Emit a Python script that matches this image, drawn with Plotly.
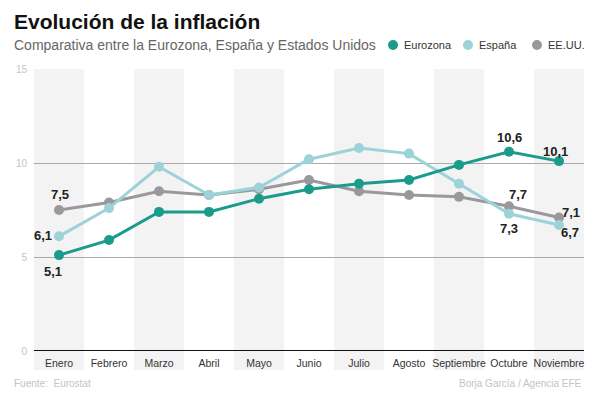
import plotly.graph_objects as go

months = ["Enero", "Febrero", "Marzo", "Abril", "Mayo", "Junio", "Julio",
          "Agosto", "Septiembre", "Octubre", "Noviembre"]
eurozona = [5.1, 5.9, 7.4, 7.4, 8.1, 8.6, 8.9, 9.1, 9.9, 10.6, 10.1]
espana = [6.1, 7.6, 9.8, 8.3, 8.7, 10.2, 10.8, 10.5, 8.9, 7.3, 6.7]
eeuu = [7.5, 7.9, 8.5, 8.3, 8.6, 9.1, 8.5, 8.3, 8.2, 7.7, 7.1]
y_ticks = [0, 5, 10, 15]

C_EZ = "#1b9b8b"
C_ES = "#9dd2d8"
C_US = "#9b989c"
FONT = "Liberation Sans, Arial, sans-serif"

series = [("Eurozona", eurozona, C_EZ), ("España", espana, C_ES), ("EE.UU.", eeuu, C_US)]

# page body has an 8px margin: figure is offset by 8px
W, H = 592, 389
ML, MR, MT, MB = 26, 16, 61, 46
PW = W - ML - MR   # 550
PH = H - MT - MB   # 282

def px_x(x):  # window x -> paper x
    return (x - 8 - ML) / PW

def px_y(y):  # window y -> paper y
    return 1 - (y - 8 - MT) / PH

fig = go.Figure()
for name, vals, col in reversed(series):
    fig.add_trace(go.Scatter(x=months, y=vals, name=name, mode="lines+markers",
                             line=dict(color=col, width=3),
                             marker=dict(color=col, size=10),
                             cliponaxis=False, showlegend=False))

shapes = []
for i in range(0, len(months), 2):
    shapes.append(dict(type="rect", xref="x", yref="paper", x0=i - 0.5, x1=i + 0.5,
                       y0=px_y(370), y1=1, fillcolor="#f3f3f3", line=dict(width=0), layer="below"))
shapes.append(dict(type="line", xref="paper", yref="y", x0=0, x1=1, y0=0, y1=0,
                   line=dict(color="#111", width=2)))

# manual legend
legend_x = [393, 468, 537]
for (name, vals, col), lx in zip(series, legend_x):
    shapes.append(dict(type="circle", xref="paper", yref="paper",
                       xsizemode="pixel", ysizemode="pixel",
                       xanchor=px_x(lx), yanchor=px_y(45),
                       x0=-5, x1=5, y0=-5, y1=5,
                       fillcolor=col, line=dict(width=0)))
    fig.add_annotation(xref="paper", yref="paper", x=px_x(lx + 9), y=px_y(45),
                       xanchor="left", yanchor="middle", text=name, showarrow=False,
                       font=dict(family=FONT, size=11, color="#333"))
fig.update_layout(shapes=shapes)

def lab(i, vals, dx, dy):
    fig.add_annotation(x=months[i], y=vals[i], text="<b>" + f"{vals[i]:.1f}".replace(".", ",") + "</b>",
                       showarrow=False, xshift=dx, yshift=dy,
                       font=dict(family=FONT, size=13, color="#222"))

lab(0, eeuu, 1, 16)
lab(0, espana, -16, 1)
lab(0, eurozona, -6, -16)
lab(9, eurozona, 0, 14)
lab(9, eeuu, 9, 12)
lab(9, espana, 0, -15)
lab(10, eurozona, -4, 10)
lab(10, eeuu, 12, 5)
lab(10, espana, 11, -7)

fig.add_annotation(xref="paper", yref="paper", x=px_x(12), y=px_y(22), xanchor="left", yanchor="middle",
                   text="<b>Evolución de la inflación</b>", showarrow=False,
                   font=dict(family=FONT, size=21, color="#111"))
fig.add_annotation(xref="paper", yref="paper", x=px_x(12), y=px_y(45), xanchor="left", yanchor="middle",
                   text="Comparativa entre la Eurozona, España y Estados Unidos", showarrow=False,
                   font=dict(family=FONT, size=14, color="#666"))
fig.add_annotation(xref="paper", yref="paper", x=px_x(12), y=px_y(384), xanchor="left", yanchor="middle",
                   text="Fuente:  Eurostat", showarrow=False,
                   font=dict(family=FONT, size=10, color="#c4c4c4"))
fig.add_annotation(xref="paper", yref="paper", x=px_x(584), y=px_y(384), xanchor="right", yanchor="middle",
                   text="Borja García / Agencia EFE", showarrow=False,
                   font=dict(family=FONT, size=10, color="#c4c4c4"))

fig.update_layout(
    width=W, height=H,
    margin=dict(l=ML, r=MR, t=MT, b=MB, autoexpand=False),
    plot_bgcolor="white", paper_bgcolor="white",
    showlegend=False,
    xaxis=dict(type="category", range=[-0.5, 10.5], showgrid=False, ticks="",
               tickangle=0, automargin=False, ticklabelstandoff=4,
               tickfont=dict(family=FONT, size=10.5, color="#333"), showline=False,
               zeroline=False),
    yaxis=dict(range=[0, 15], tickvals=y_ticks, showgrid=True, gridcolor="#aaaaaa",
               gridwidth=1, zeroline=False, showline=False, ticks="", automargin=False,
               tickfont=dict(family=FONT, size=10, color="#c4c4c4"), ticklabelstandoff=6),
)
fig.write_html("out.html")
